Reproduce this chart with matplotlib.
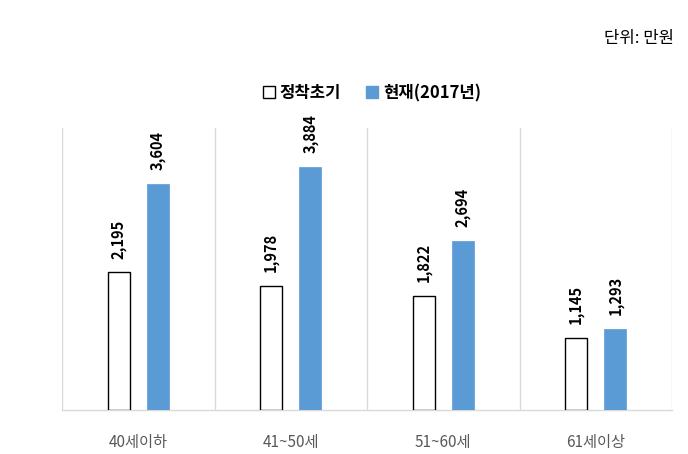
import numpy as np
import matplotlib.pyplot as plt
from matplotlib.patches import Patch

# data
categories = ["40세이하", "41~50세", "51~60세", "61세이상"]
initial = [2195, 1978, 1822, 1145]
current = [3604, 3884, 2694, 1293]
series_names = ["정착초기", "현재(2017년)"]
unit_text = "단위: 만원"

BLUE = "#5B9BD5"
GRID = "#D9D9D9"

plt.rcParams["font.family"] = ["Noto Sans CJK KR", "DejaVu Sans"]

fig = plt.figure(figsize=(6.88, 4.54), dpi=100)
ax = fig.add_axes([62 / 688, 1 - 410 / 454, 610 / 688, 282 / 454])

x = np.arange(len(categories))
w = 0.145
off = 0.128
b1 = ax.bar(x - off, initial, w, color="white", edgecolor="black", linewidth=1.0, zorder=3)
b2 = ax.bar(x + off, current, w, color=BLUE, edgecolor=BLUE, linewidth=0.5, zorder=3)

for bars, vals in ((b1, initial), (b2, current)):
    for r, v in zip(bars, vals):
        ax.annotate(f"{v:,}", (r.get_x() + r.get_width() / 2, r.get_height()),
                    xytext=(0, 10), textcoords="offset points",
                    rotation=90, ha="center", va="bottom",
                    fontsize=10.5, fontweight="bold", color="black")

for xv in np.arange(-0.5, len(categories), 1.0):
    ax.axvline(xv, color=GRID, lw=1.0, zorder=1)

ax.set_xlim(-0.5, len(categories) - 0.5)
ax.set_ylim(0, 4500)
ax.set_yticks([])
ax.set_xticks(x)
ax.set_xticklabels(categories, fontsize=11, color="#595959")
ax.tick_params(axis="x", length=0, pad=17)
for s in ("top", "left", "right"):
    ax.spines[s].set_visible(False)
ax.spines["bottom"].set_color(GRID)
ax.spines["bottom"].set_linewidth(1.0)

handles = [Patch(facecolor="white", edgecolor="black", linewidth=1.0),
           Patch(facecolor=BLUE, edgecolor=BLUE)]
leg = fig.legend(handles, series_names, loc="center", bbox_to_anchor=(372 / 688, 1 - 93 / 454),
                 ncol=2, frameon=False, handlelength=0.7, handleheight=0.7,
                 handletextpad=0.3, columnspacing=1.5,
                 prop={"weight": "bold", "size": 12})

fig.text(674 / 688, 1 - 38 / 454, unit_text, ha="right", va="center", fontsize=12, color="black")

fig.savefig("out.png", dpi=100)
